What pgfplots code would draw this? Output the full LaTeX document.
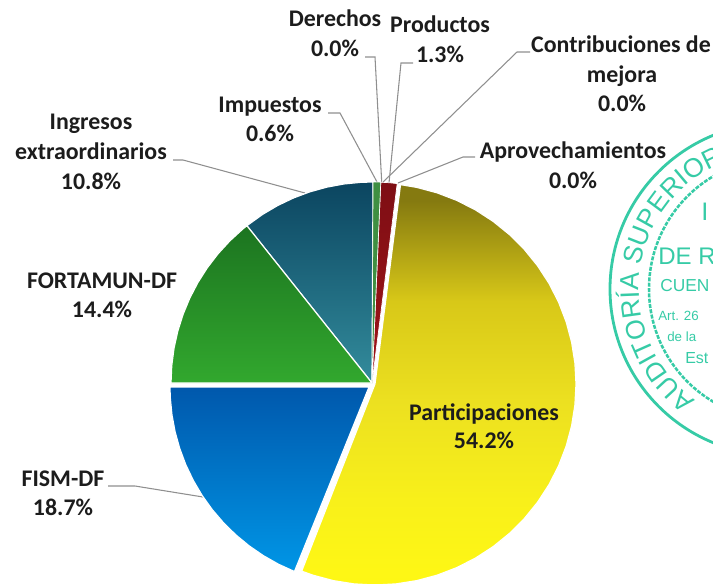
\documentclass[border=0pt]{standalone}
\usepackage{pgfplots}
\pgfplotsset{compat=1.18}
\usepackage{fontspec}
\setmainfont{Carlito}
\newfontfamily\stampfont{Liberation Sans}
\usetikzlibrary{decorations.text}
\definecolor{stamp}{HTML}{36CBA6}
\definecolor{leader}{HTML}{8F8F8F}
\definecolor{ink}{HTML}{1C1C1C}
\definecolor{tealT}{HTML}{0B4560}
\definecolor{tealB}{HTML}{338C9C}
\definecolor{greenT}{HTML}{1C7420}
\definecolor{greenB}{HTML}{32A82E}
\definecolor{blueT}{HTML}{0058AC}
\definecolor{blueB}{HTML}{0096E6}
\definecolor{yA}{HTML}{857A10}
\definecolor{yB}{HTML}{B0A214}
\definecolor{yC}{HTML}{D8C818}
\definecolor{yD}{HTML}{ECE020}
\definecolor{yE}{HTML}{F8F01A}
\definecolor{yF}{HTML}{FFF814}
\definecolor{redT}{HTML}{7E0E14}
\definecolor{redB}{HTML}{A01418}
\definecolor{smallG}{HTML}{3F8F42}
\pgfdeclareverticalshading{yellowpie}{100bp}{color(0bp)=(yF);color(25bp)=(yF);color(35.5bp)=(yE);color(48bp)=(yD);color(60.4bp)=(yC);color(66.6bp)=(yB);color(73bp)=(yA);color(100bp)=(yA)}
\newcommand{\lab}[3]{\node[font=\fontsize{17.9}{20}\selectfont\bfseries,text=ink,inner sep=0pt,anchor=base] at (#1,#2) {#3};}
\begin{document}
\begin{tikzpicture}
\useasboundingbox (0,0) rectangle (534.75pt,437.25pt);
\clip (0,0) rectangle (534.75pt,437.25pt);
\begin{axis}[at={(0,0)},anchor=south west,width=534.75pt,height=437.25pt,scale only axis,
  xmin=-372,xmax=341,ymin=-199,ymax=384,hide axis,clip=true]
% leader lines
\addplot[leader,line width=0.8pt] coordinates {(-7,327)(3,327)(9.7,202)};
\addplot[leader,line width=0.8pt] coordinates {(41,321)(29,321)(17,201)};
\addplot[leader,line width=0.8pt] coordinates {(158,332)(145,332)(11,202)};
\addplot[leader,line width=0.8pt] coordinates {(103,227)(91,227)(26,201)};
\addplot[leader,line width=0.8pt] coordinates {(-44,271)(-32,271)(5,202)};
\addplot[leader,line width=0.8pt] coordinates {(-199,224)(-189,224)(-67,191)};
\addplot[leader,line width=0.8pt] coordinates {(-264,-102)(-237,-102)(-169,-113)};
% Ingresos extraordinarios 10.8%
\addplot[data cs=polar,draw=white,line width=0.9pt,top color=tealT,bottom color=tealB,shift={(0pt,0.75pt)}] coordinates {(0,0)(128.5,201)(123,201)(118,201)(113,201)(108,201)(103,201)(98,201)(93,201)(89.7,201)(0,0)};
% FORTAMUN-DF 14.4%
\addplot[data cs=polar,draw=white,line width=0.9pt,top color=greenT,bottom color=greenB,shift={(0pt,0.75pt)}] coordinates {(0,0)(180,201)(175,201)(170,201)(165,201)(160,201)(155,201)(150,201)(145,201)(140,201)(135,201)(130,201)(128.5,201)(0,0)};
% FISM-DF 18.7%
\addplot[data cs=polar,draw=white,line width=0.9pt,top color=blueT,bottom color=blueB,shift={(-2.25pt,-2.25pt)}] coordinates {(0,0)(248,199)(243,199)(238,199)(233,199)(228,199)(223,199)(218,199)(213,199)(208,199)(203,199)(198,199)(193,199)(188,199)(183,199)(180,199)(0,0)};
% Participaciones 54.2%
\addplot[data cs=polar,draw=white,line width=0.9pt,shade,shading=yellowpie,shift={(2.25pt,0pt)}] coordinates {(0,0)(82.7,201)(78,201)(72,201)(66,201)(60,201)(54,201)(48,201)(42,201)(36,201)(30,201)(24,201)(18,201)(12,201)(6,201)(0,201)(-6,201)(-12,201)(-18,201)(-24,201)(-30,201)(-36,201)(-42,201)(-48,201)(-54,201)(-60,201)(-66,201)(-72,201)(-78,201)(-84,201)(-90,201)(-96,201)(-102,201)(-108,201)(-111.4,201)(0,0)};
% Productos 1.3%
\addplot[data cs=polar,draw=white,line width=0.5pt,top color=redT,bottom color=redB,shift={(0pt,0.75pt)}] coordinates {(0,0)(87.5,201)(85,201)(82.8,201)(0,0)};
% Impuestos 0.6%
\addplot[data cs=polar,draw=white,line width=0.5pt,fill=smallG,shift={(0pt,0.75pt)}] coordinates {(0,0)(89.7,201)(88.6,201)(87.5,201)(0,0)};
\end{axis}
% stamp
\begin{scope}[shift={(582pt,220.5pt)},x=0.75pt,y=0.75pt]
\draw[stamp,line width=2.1pt] (0,0) circle[radius=166];
\draw[stamp,line width=1.9pt,dash pattern=on 3pt off 1pt] (4,0) circle[radius=131];
\path[decorate,decoration={text along path,text align=left,
  text={|\stampfont\fontsize{20}{22}\selectfont\color{stamp}|AUDITORÍA   SUPERIOR}}]
  (234:137) arc[start angle=234,end angle=60,radius=137];
\end{scope}
\begin{scope}[shift={(0,437.25pt)},x=0.75pt,y=-0.75pt]
\node[anchor=west,inner sep=0pt,text=stamp,font=\stampfont\fontsize{19}{20}\selectfont] at (701,212) {I};
\node[anchor=west,inner sep=0pt,text=stamp,font=\stampfont\fontsize{18}{20}\selectfont] at (658,256) {DE R};
\node[anchor=west,inner sep=0pt,text=stamp,font=\stampfont\fontsize{13}{14}\selectfont] at (660,286) {CUEN};
\node[anchor=west,inner sep=0pt,text=stamp,font=\stampfont\fontsize{10}{12}\selectfont] at (658,316) {Art. 26};
\node[anchor=west,inner sep=0pt,text=stamp,font=\stampfont\fontsize{10}{12}\selectfont] at (667,337) {de la};
\node[anchor=west,inner sep=0pt,text=stamp,font=\stampfont\fontsize{12}{12}\selectfont] at (685,358) {Est};
\lab{335}{27}{Derechos}
\lab{335}{57}{0.0\%}
\lab{440}{33}{Productos}
\lab{440}{63}{1.3\%}
\lab{621}{53}{Contribuciones de}
\lab{622}{83}{mejora}
\lab{622}{112}{0.0\%}
\lab{573}{158}{Aprovechamientos}
\lab{573}{188}{0.0\%}
\lab{270}{113}{Impuestos}
\lab{270}{142}{0.6\%}
\lab{91}{130}{Ingresos}
\lab{91}{160}{extraordinarios}
\lab{91}{189}{10.8\%}
\lab{102}{288}{FORTAMUN-DF}
\lab{102}{317}{14.4\%}
\lab{63}{486}{FISM-DF}
\lab{63}{515}{18.7\%}
\lab{484}{420}{Participaciones}
\lab{484}{448}{54.2\%}
\end{scope}
\end{tikzpicture}
\end{document}
